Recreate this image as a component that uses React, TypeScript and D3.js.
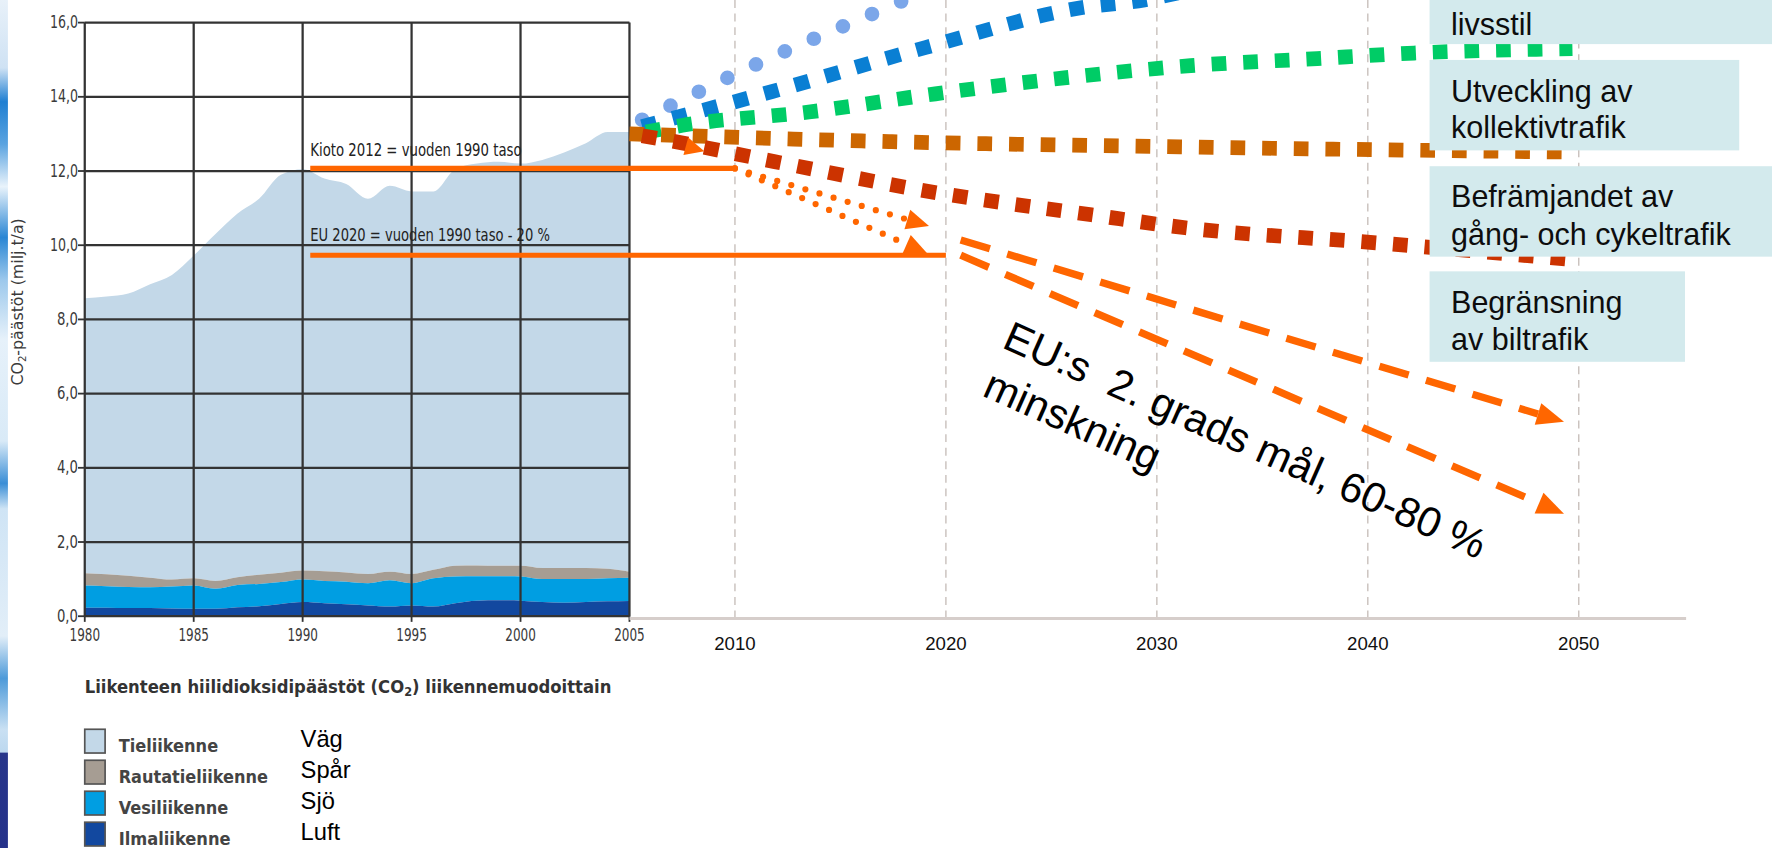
import * as d3 from "d3";

// left chart: CO2 emissions per transport mode, read as stacked boundaries (milj. t/a)
const years = [
  1980, 1981, 1982, 1983, 1984, 1985, 1986, 1987, 1988, 1989, 1990, 1991, 1992,
  1993, 1994, 1995, 1996, 1997, 1998, 1999, 2000, 2001, 2002, 2003, 2004, 2005,
];
const roadTop = [
  8.57, 8.62, 8.7, 8.95, 9.2, 9.72, 10.3, 10.85, 11.25, 11.9, 12.05, 11.8, 11.65,
  11.25, 11.6, 11.45, 11.45, 12.05, 12.2, 12.25, 12.2, 12.3, 12.5, 12.75, 13.05, 13.05,
];
const railTop = [
  1.16, 1.13, 1.09, 1.04, 0.99, 1.02, 0.95, 1.05, 1.12, 1.17, 1.23, 1.21, 1.18,
  1.14, 1.2, 1.14, 1.25, 1.36, 1.37, 1.36, 1.36, 1.3, 1.3, 1.3, 1.28, 1.2,
];
const waterTop = [
  0.83, 0.81, 0.79, 0.78, 0.8, 0.83, 0.74, 0.84, 0.87, 0.92, 0.99, 0.95, 0.93,
  0.89, 0.97, 0.89, 1.02, 1.07, 1.08, 1.08, 1.07, 1.0, 1.0, 1.0, 1.02, 1.04,
];
const airTop = [
  0.23, 0.23, 0.22, 0.22, 0.21, 0.2, 0.2, 0.24, 0.27, 0.33, 0.38, 0.35, 0.32,
  0.29, 0.26, 0.29, 0.26, 0.35, 0.42, 0.43, 0.42, 0.38, 0.36, 0.38, 0.4, 0.41,
];

const leftYearTicks = [1980, 1985, 1990, 1995, 2000, 2005];
const yTicks = [0, 2, 4, 6, 8, 10, 12, 14, 16];
const rightYearTicks = [2010, 2020, 2030, 2040, 2050];

// scenario paths to 2050: [year, value]
const lifestyleDots: [number, number][] = [[2005.6, 13.38], [2011.1, 14.9], [2018, 16.6], [2020, 17.1]];
const techSquares: [number, number][] = [[2005.6, 13.2], [2011.75, 14.14], [2019.04, 15.33], [2026.4, 16.4], [2029.4, 16.61], [2031, 16.8]];
const transitSquares: [number, number][] = [[2005.8, 13.05], [2007.5, 13.23], [2013.5, 13.59], [2019.5, 14.08], [2025.6, 14.51], [2031.6, 14.84], [2037.6, 15.03], [2042.2, 15.18], [2049.7, 15.3]];
const walkSquares: [number, number][] = [[2005, 13.0], [2017.45, 12.79], [2031.1, 12.65], [2049.6, 12.51]];
const carSquares: [number, number][] = [[2005.6, 12.95], [2006.5, 12.86], [2011.9, 12.25], [2019.4, 11.43], [2026.9, 10.82], [2031.35, 10.47], [2040.5, 10.06], [2049.9, 9.6]];

const kiotoLevel = 12.07;
const euLevel = 9.73;
const targetStartYear = 1990.35;
const dottedArrows: [number, number][][] = [
  [[2010, 12.07], [2019.2, 10.52]],
  [[2010, 12.07], [2019.12, 9.78]],
];
const dashedArrows: [number, number][][] = [
  [[2020.7, 10.14], [2049.3, 5.24]],
  [[2020.7, 9.73], [2049.3, 2.76]],
];
const startArrow: [number, number][] = [[2006.5, 12.85], [2008.55, 12.53]];

const boxTexts = [
  ["livsstil"],
  ["Utveckling av", "kollektivtrafik"],
  ["Befrämjandet av", "gång- och cykeltrafik"],
  ["Begränsning", "av biltrafik"],
];
const legendFi = ["Tieliikenne", "Rautatieliikenne", "Vesiliikenne", "Ilmaliikenne"];
const legendSv = ["Väg", "Spår", "Sjö", "Luft"];

const W = 1568;
const H = 750;

const xL = d3.scaleLinear().domain([1980, 2005]).range([75, 557]);
const xR = d3.scaleLinear().domain([2005, 2050]).range([557, 1397]);
const y = d3.scaleLinear().domain([0, 16]).range([545, 20]);

const fiFmt = d3
  .formatLocale({ decimal: ",", thousands: " ", grouping: [3], currency: ["", ""] })
  .format(".1f");

const ARIAL = "'Liberation Sans', Arial, sans-serif";
const NARROW = "'Liberation Sans Narrow', 'DejaVu Sans Condensed', 'Liberation Sans', sans-serif";

const modeColors = ["#c3d8e8", "#a69d93", "#009ee2", "#12489f"];

function head(tail: [number, number], tip: [number, number], len: number, half: number) {
  const dx = tip[0] - tail[0];
  const dy = tip[1] - tail[1];
  const d = Math.hypot(dx, dy);
  const ux = dx / d;
  const uy = dy / d;
  const bx = tip[0] - ux * len;
  const by = tip[1] - uy * len;
  return {
    base: [bx, by] as [number, number],
    points: `${tip[0]},${tip[1]} ${bx - uy * half},${by + ux * half} ${bx + uy * half},${by - ux * half}`,
  };
}

const toScreen = (p: [number, number]): [number, number] => [xR(p[0]), y(p[1])];

export default function App() {
  const layers = [roadTop, railTop, waterTop, airTop];
  const lowers = [railTop, waterTop, airTop, years.map(() => 0)];

  const area = (top: number[], low: number[]) =>
    d3
      .area<number>()
      .x((_, i) => xL(years[i]))
      .y0((_, i) => y(low[i]))
      .y1((d) => y(d))
      .curve(d3.curveMonotoneX)(top) ?? "";

  const scen = d3
    .line<[number, number]>()
    .x((d) => xR(d[0]))
    .y((d) => y(d[1]))
    .curve(d3.curveMonotoneX);

  const scenarios = [
    { pts: lifestyleDots, color: "#7ba6e9", dash: "0 28", cap: "round" as const },
    { pts: techSquares, color: "#0a7fd3", dash: "13 15", cap: "butt" as const },
    { pts: transitSquares, color: "#00cc66", dash: "13 15", cap: "butt" as const },
    { pts: walkSquares, color: "#cc6600", dash: "13 15", cap: "butt" as const },
    { pts: carSquares, color: "#cc3300", dash: "13 15", cap: "butt" as const },
  ];

  const boxes = [
    { x: 1265, y: -10, w: 320, h: 49, lines: [31] },
    { x: 1265, y: 53, w: 274, h: 80, lines: [90, 122] },
    { x: 1265, y: 147, w: 320, h: 80, lines: [183, 217] },
    { x: 1265, y: 240, w: 226, h: 80, lines: [277, 310] },
  ];

  const legendWidths = [88, 132, 97, 99];

  return (
    <svg
      width={1772}
      height={848}
      viewBox={`0 0 ${W} ${H}`}
      preserveAspectRatio="none"
      style={{ position: "absolute", left: 0, top: 0, background: "#fff" }}
    >
      <defs>
        <linearGradient id="strip" x1="0" y1="0" x2="0" y2="1">
          <stop offset="0" stopColor="#e8f1f9" />
          <stop offset="0.08" stopColor="#cfe2f4" />
          <stop offset="0.12" stopColor="#1f7fd2" />
          <stop offset="0.17" stopColor="#5aa3e0" />
          <stop offset="0.22" stopColor="#e9f3fb" />
          <stop offset="0.28" stopColor="#2a86d4" />
          <stop offset="0.33" stopColor="#9cc8ec" />
          <stop offset="0.4" stopColor="#e6f1fa" />
          <stop offset="0.52" stopColor="#d9eaf7" />
          <stop offset="0.57" stopColor="#3a8ed6" />
          <stop offset="0.6" stopColor="#cfe4f5" />
          <stop offset="0.75" stopColor="#e2eef8" />
          <stop offset="0.8" stopColor="#4d9ad9" />
          <stop offset="0.86" stopColor="#c9e0f3" />
          <stop offset="0.887" stopColor="#bcd8ef" />
          <stop offset="0.888" stopColor="#27358a" />
          <stop offset="1" stopColor="#25328a" />
        </linearGradient>
      </defs>

      {/* decorative strip at left edge */}
      <rect x={0} y={0} width={7} height={H} fill="url(#strip)" />

      {/* stacked areas */}
      {layers.map((top, i) => (
        <path key={i} d={area(top, lowers[i])} fill={modeColors[i]} />
      ))}

      {/* left grid */}
      {yTicks.map((t) => (
        <g key={t}>
          <line x1={xL(1980)} x2={xL(2005)} y1={y(t)} y2={y(t)} stroke="#333" strokeWidth={2} />
          <line x1={xL(1980) - 6} x2={xL(1980)} y1={y(t)} y2={y(t)} stroke="#333" strokeWidth={1.6} />
          <text
            x={xL(1980) - 6}
            y={y(t) + 5}
            textAnchor="end"
            fontFamily={NARROW}
            fontSize={15}
            fill="#3a3a3a"
            textLength={fiFmt(t).length * 6.2}
            lengthAdjust="spacingAndGlyphs"
          >
            {fiFmt(t)}
          </text>
        </g>
      ))}
      {leftYearTicks.map((t) => (
        <g key={t}>
          <line x1={xL(t)} x2={xL(t)} y1={y(0)} y2={y(16)} stroke="#333" strokeWidth={2} />
          <line x1={xL(t)} x2={xL(t)} y1={y(0)} y2={y(0) + 5} stroke="#333" strokeWidth={1.6} />
          <text
            x={xL(t)}
            y={567}
            textAnchor="middle"
            fontFamily={NARROW}
            fontSize={15}
            fill="#3a3a3a"
            textLength={27}
            lengthAdjust="spacingAndGlyphs"
          >
            {t}
          </text>
        </g>
      ))}
      <text
        transform="translate(20,267) rotate(-90)"
        textAnchor="middle"
        fontFamily={NARROW}
        fontSize={14}
        fill="#3a3a3a"
        textLength={148}
        lengthAdjust="spacingAndGlyphs"
      >
        CO<tspan fontSize={9} dy={3}>2</tspan>
        <tspan dy={-3}>-päästöt (milj.t/a)</tspan>
      </text>

      {/* right part: dashed year grid and axis */}
      {rightYearTicks.map((t) => (
        <g key={t}>
          <line x1={xR(t)} x2={xR(t)} y1={0} y2={547} stroke="#cbc3bf" strokeWidth={1.3} strokeDasharray="7 5" />
          <text x={xR(t)} y={575} textAnchor="middle" fontFamily={ARIAL} fontSize={16.5} fill="#111">
            {t}
          </text>
        </g>
      ))}
      <line x1={xR(2005)} x2={1492} y1={547} y2={547} stroke="#d6cecb" strokeWidth={2.5} />

      {/* scenario lines */}
      {scenarios.map((s, i) => (
        <path
          key={i}
          d={scen(s.pts) ?? ""}
          fill="none"
          stroke={s.color}
          strokeWidth={13}
          strokeDasharray={s.dash}
          strokeLinecap={s.cap}
        />
      ))}

      {/* Kioto / EU targets */}
      <line x1={xL(targetStartYear)} x2={xR(2010)} y1={y(kiotoLevel)} y2={y(kiotoLevel)} stroke="#ff6600" strokeWidth={4.5} />
      <line x1={xL(targetStartYear)} x2={xR(2020)} y1={y(euLevel)} y2={y(euLevel)} stroke="#ff6600" strokeWidth={4.5} />
      <text
        x={xL(targetStartYear)}
        y={138}
        fontFamily={NARROW}
        fontSize={15}
        fill="#222"
        textLength={187}
        lengthAdjust="spacingAndGlyphs"
      >
        Kioto 2012 = vuoden 1990 taso
      </text>
      <text
        x={xL(targetStartYear)}
        y={213}
        fontFamily={NARROW}
        fontSize={15}
        fill="#222"
        textLength={212}
        lengthAdjust="spacingAndGlyphs"
      >
        EU 2020 = vuoden 1990 taso - 20 %
      </text>

      {/* dotted arrows */}
      {dottedArrows.map((a, i) => {
        const p0 = toScreen(a[0]);
        const p1 = toScreen(a[1]);
        const h = head(p0, p1, 20, 9);
        return (
          <g key={i}>
            <line x1={p0[0]} y1={p0[1]} x2={h.base[0]} y2={h.base[1]} stroke="#ff6600" strokeWidth={5.5} strokeDasharray="0 13" strokeLinecap="round" />
            <polygon points={h.points} fill="#ff6600" />
          </g>
        );
      })}

      {/* dashed arrows to 2050 */}
      {dashedArrows.map((a, i) => {
        const p0 = toScreen(a[0]);
        const p1 = toScreen(a[1]);
        const h = head(p0, p1, 24, 10);
        return (
          <g key={i}>
            <line x1={p0[0]} y1={p0[1]} x2={h.base[0]} y2={h.base[1]} stroke="#ff6600" strokeWidth={6.5} strokeDasharray="27 16" />
            <polygon points={h.points} fill="#ff6600" />
          </g>
        );
      })}

      {(() => {
        const h = head(toScreen(startArrow[0]), toScreen(startArrow[1]), 17, 8);
        return <polygon points={h.points} fill="#ff6600" />;
      })()}

      {/* measure boxes */}
      {boxes.map((b, i) => (
        <g key={i}>
          <rect x={b.x} y={b.y} width={b.w} height={b.h} fill="#d3eaed" />
          {boxTexts[i].map((t, j) => (
            <text key={j} x={1284} y={b.lines[j]} fontFamily={ARIAL} fontSize={27} fill="#0d0d0d">
              {t}
            </text>
          ))}
        </g>
      ))}

      {/* rotated EU goal text */}
      <text
        transform="translate(885.5,306.8) rotate(24)"
        fontFamily={ARIAL}
        fontSize={37}
        fill="#000"
        style={{ whiteSpace: "pre" }}
      >
        {"EU:s  2. grads mål, 60-80 %"}
      </text>
      <text transform="translate(868,349.6) rotate(24)" fontFamily={ARIAL} fontSize={37} fill="#000">
        minskning
      </text>

      {/* caption and legend */}
      <text
        x={75}
        y={613}
        fontFamily={NARROW}
        fontSize={16}
        fontWeight={600}
        fill="#333"
        textLength={466}
        lengthAdjust="spacingAndGlyphs"
      >
        Liikenteen hiilidioksidipäästöt (CO<tspan fontSize={11} dy={3}>2</tspan>
        <tspan dy={-3}>) liikennemuodoittain</tspan>
      </text>
      {legendFi.map((label, i) => {
        const base = 665 + i * 27.4;
        return (
          <g key={label}>
            <rect x={75} y={base - 20} width={18} height={21} fill={modeColors[i]} stroke="#555" strokeWidth={1.5} />
            <text
              x={105}
              y={base}
              fontFamily={NARROW}
              fontSize={16}
              fontWeight={700}
              fill="#444"
              textLength={legendWidths[i]}
              lengthAdjust="spacingAndGlyphs"
            >
              {label}
            </text>
            <text x={266} y={base - 4} fontFamily={ARIAL} fontSize={21} fill="#000">
              {legendSv[i]}
            </text>
          </g>
        );
      })}
    </svg>
  );
}
